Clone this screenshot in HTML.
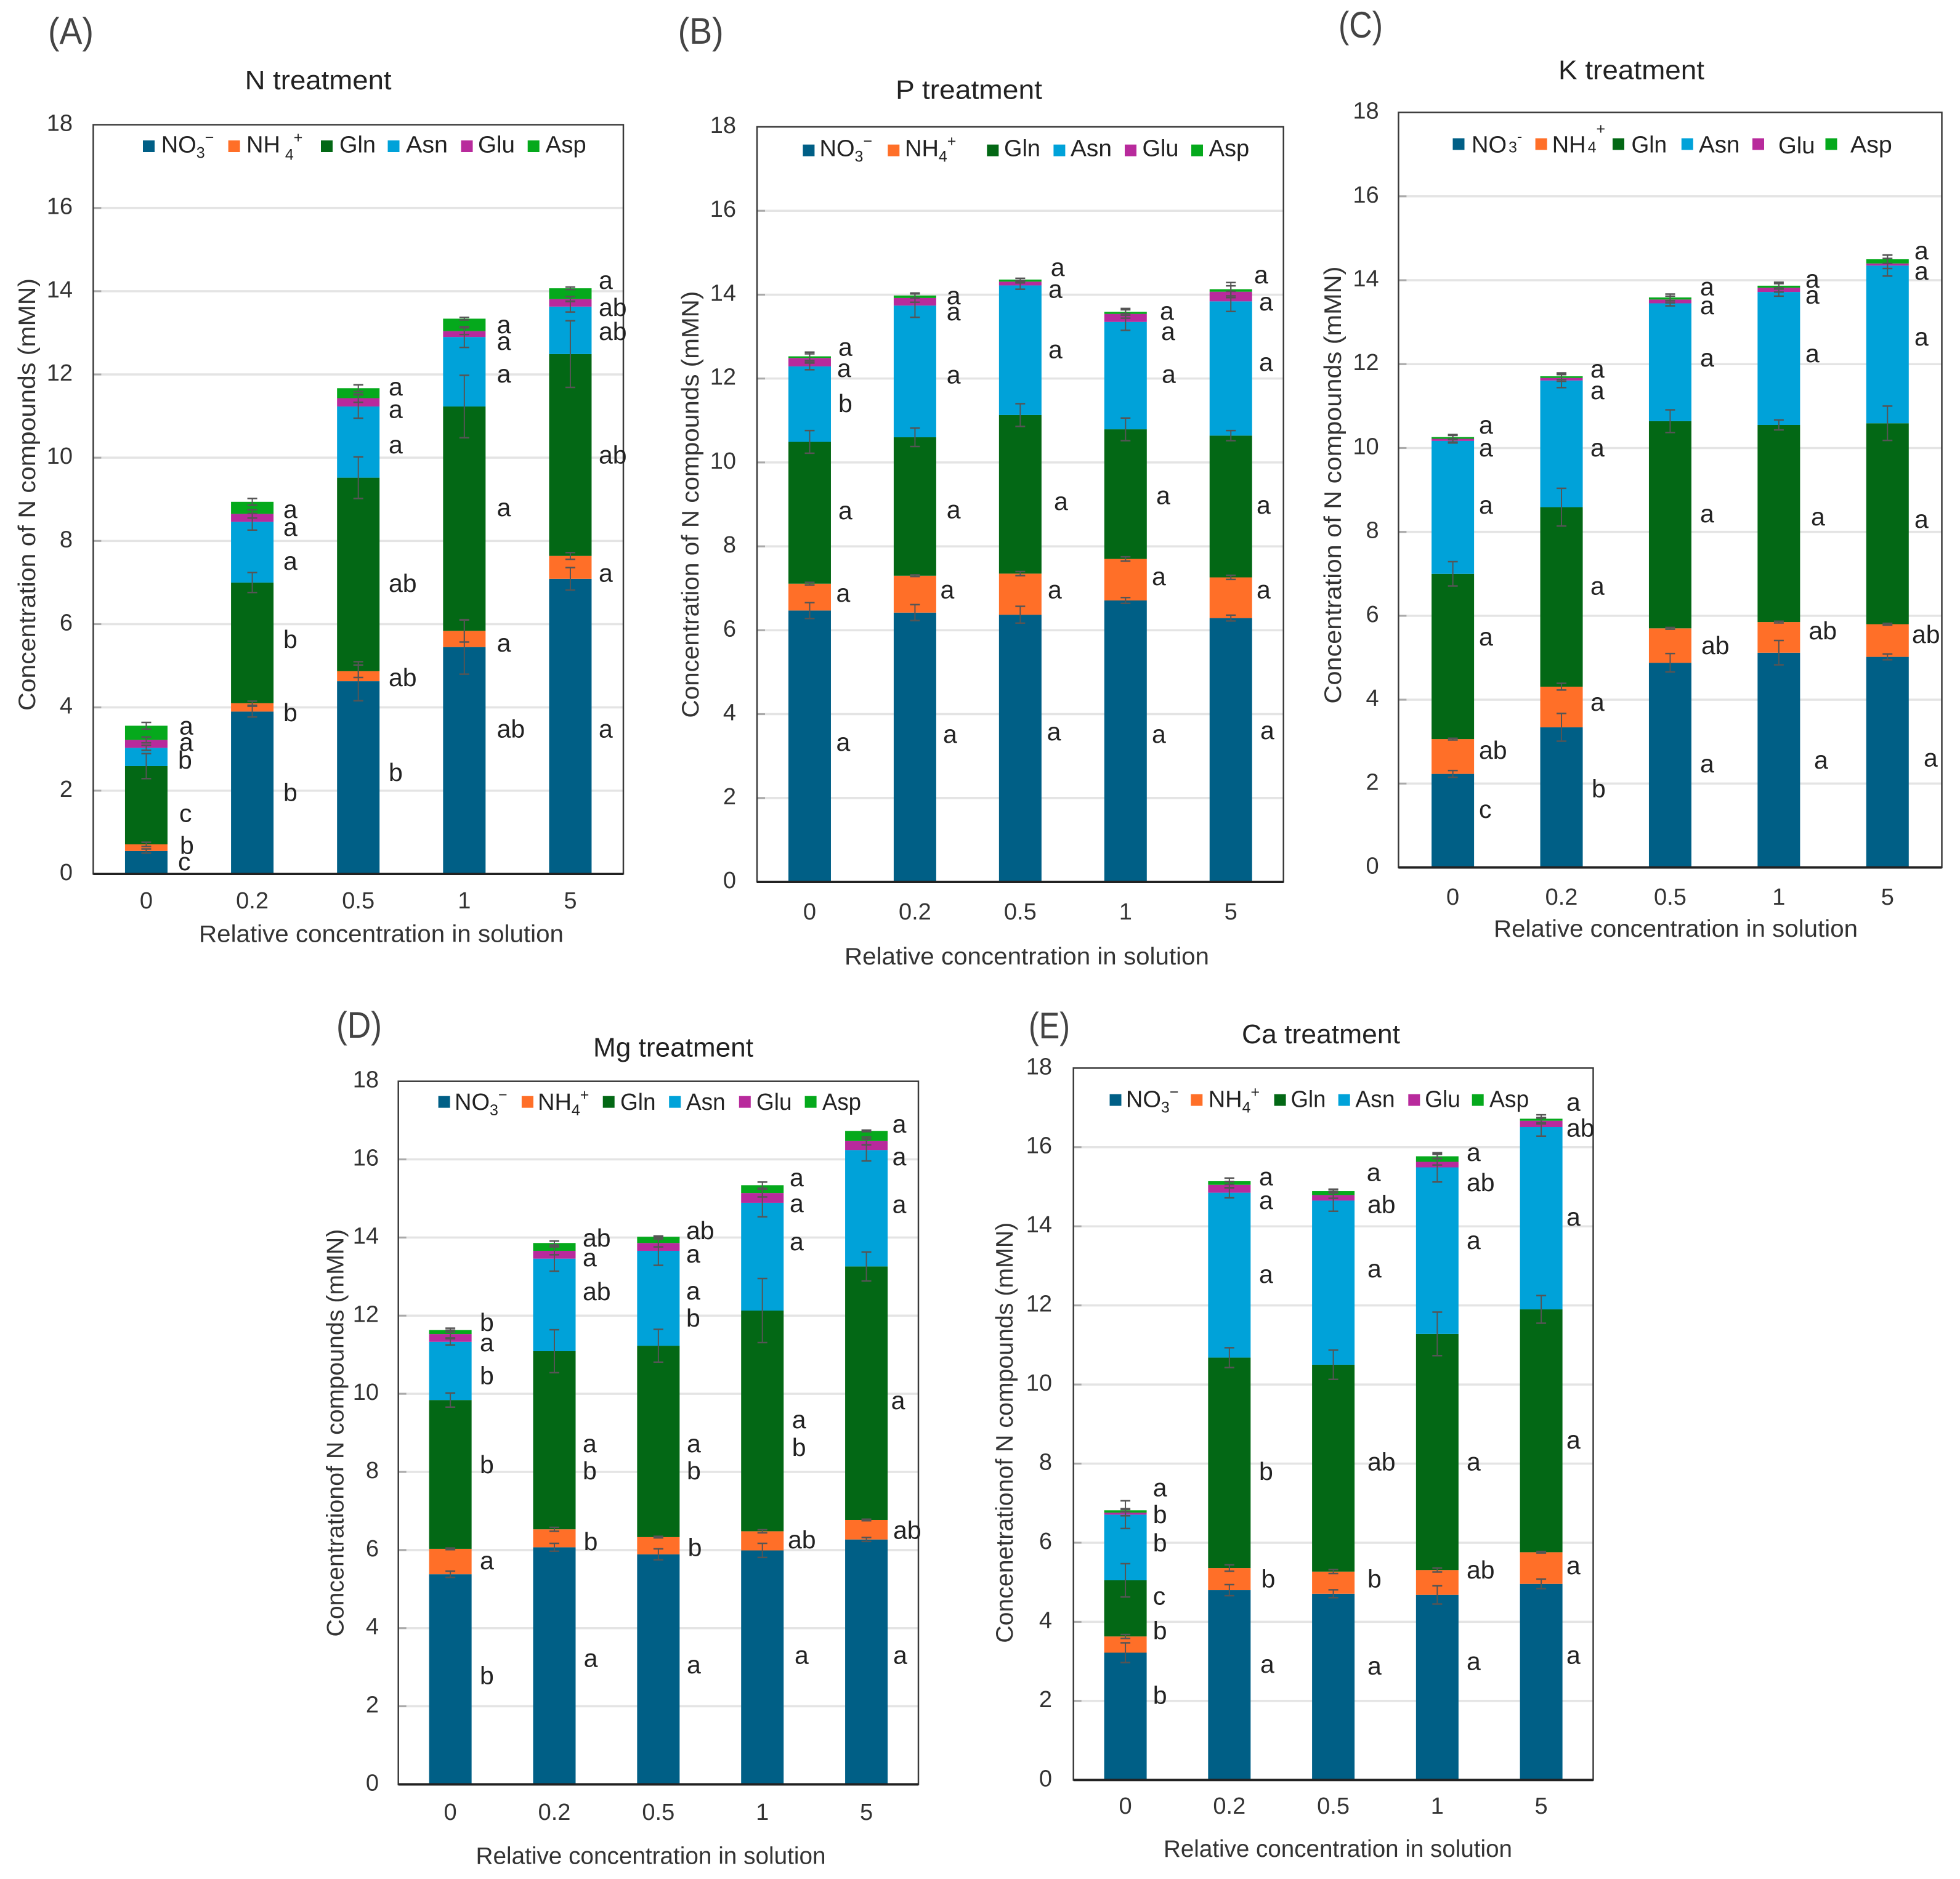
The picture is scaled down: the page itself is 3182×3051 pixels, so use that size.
<!DOCTYPE html>
<html lang="en">
<head>
<meta charset="utf-8">
<title>Concentration of N compounds under N, P, K, Mg and Ca treatments</title>
<style>
html,body{margin:0;padding:0;background:#fff;}
svg{display:block;font-family:"Liberation Sans",sans-serif;fill:#222;}
.title{font-size:44px;}
.plabel{font-size:60px;fill:#444;}
.axt{font-size:39px;fill:#333;}
.leg{font-size:38px;}
.sig{font-size:41px;}
</style>
</head>
<body>
<svg xmlns="http://www.w3.org/2000/svg" width="3182" height="3051" viewBox="0 0 3182 3051">
<rect x="0" y="0" width="3182" height="3051" fill="#fff"/>

<!-- PANEL A -->
<g>
<g id="marks-a"></g>
<text class="plabel" x="78" y="71" textLength="74" lengthAdjust="spacingAndGlyphs">(A)</text>
<text class="title" x="397.6" y="145" textLength="238" lengthAdjust="spacingAndGlyphs">N treatment</text>
<text class="axt" x="57" y="1154" transform="rotate(-90 57 1154)" textLength="702" lengthAdjust="spacingAndGlyphs">Concentration of N compounds (mMN)</text>
<text class="axt" x="323" y="1529.5" textLength="592" lengthAdjust="spacingAndGlyphs">Relative concentration in solution</text>
<g>
<rect x="232" y="228" width="19" height="19" fill="#005f86"/>
<text class="leg" x="261.7" y="247.4">NO<tspan dy="9" font-size="25">3</tspan><tspan dy="-25" font-size="25">−</tspan></text>
<rect x="370.6" y="228" width="19" height="19" fill="#ff6f28"/>
<text class="leg" x="400" y="247.4">NH<tspan dx="8" dy="12" font-size="25">4</tspan><tspan dy="-28" font-size="25">+</tspan></text>
<rect x="521" y="228" width="19" height="19" fill="#036815"/>
<text class="leg" x="551" y="247.4" textLength="59" lengthAdjust="spacingAndGlyphs">Gln</text>
<rect x="629.5" y="228" width="19" height="19" fill="#00a2d9"/>
<text class="leg" x="659" y="247.4" textLength="68" lengthAdjust="spacingAndGlyphs">Asn</text>
<rect x="748.5" y="228" width="19" height="19" fill="#b82a9c"/>
<text class="leg" x="776" y="247.4" textLength="60" lengthAdjust="spacingAndGlyphs">Glu</text>
<rect x="856.7" y="228" width="19" height="19" fill="#05a91c"/>
<text class="leg" x="885.7" y="247.4" textLength="66" lengthAdjust="spacingAndGlyphs">Asp</text>
</g>
<g>
<text class="sig" x="291" y="1192.6">a</text>
<text class="sig" x="291" y="1219">a</text>
<text class="sig" x="289" y="1248">b</text>
<text class="sig" x="291" y="1334.7">c</text>
<text class="sig" x="292" y="1386.5">b</text>
<text class="sig" x="289" y="1413">c</text>
<text class="sig" x="460" y="841">a</text>
<text class="sig" x="460" y="870">a</text>
<text class="sig" x="460" y="925">a</text>
<text class="sig" x="460" y="1052">b</text>
<text class="sig" x="460" y="1171">b</text>
<text class="sig" x="460" y="1300.7">b</text>
<text class="sig" x="631" y="642">a</text>
<text class="sig" x="631" y="678.6">a</text>
<text class="sig" x="631" y="736">a</text>
<text class="sig" x="631" y="961">ab</text>
<text class="sig" x="631" y="1114">ab</text>
<text class="sig" x="631" y="1268">b</text>
<text class="sig" x="806.6" y="541">a</text>
<text class="sig" x="806.6" y="568">a</text>
<text class="sig" x="806.6" y="621">a</text>
<text class="sig" x="806.6" y="838">a</text>
<text class="sig" x="806.6" y="1058">a</text>
<text class="sig" x="806.6" y="1197.5">ab</text>
<text class="sig" x="972" y="469">a</text>
<text class="sig" x="972" y="513">ab</text>
<text class="sig" x="972" y="552">ab</text>
<text class="sig" x="972" y="752.6">ab</text>
<text class="sig" x="972" y="944.5">a</text>
<text class="sig" x="972" y="1197.5">a</text>
</g>
</g>

<!-- PANEL B -->
<g>
<g id="marks-b"></g>
<text class="plabel" x="1100.6" y="71" textLength="74" lengthAdjust="spacingAndGlyphs">(B)</text>
<text class="title" x="1454" y="160.7" textLength="238" lengthAdjust="spacingAndGlyphs">P treatment</text>
<text class="axt" x="1134" y="1165.6" transform="rotate(-90 1134 1165.6)" textLength="693" lengthAdjust="spacingAndGlyphs">Concentration of N compounds (mMN)</text>
<text class="axt" x="1371" y="1566" textLength="592" lengthAdjust="spacingAndGlyphs">Relative concentration in solution</text>
<g>
<rect x="1303.4" y="234.7" width="19" height="19" fill="#005f86"/>
<text class="leg" x="1330.5" y="253.6">NO<tspan dy="9" font-size="25">3</tspan><tspan dy="-25" font-size="25">−</tspan></text>
<rect x="1441.3" y="234.7" width="19" height="19" fill="#ff6f28"/>
<text class="leg" x="1469" y="253.6">NH<tspan dy="9" font-size="25">4</tspan><tspan dy="-25" font-size="25">+</tspan></text>
<rect x="1602.3" y="234.7" width="19" height="19" fill="#036815"/>
<text class="leg" x="1630" y="253.6" textLength="59" lengthAdjust="spacingAndGlyphs">Gln</text>
<rect x="1710.4" y="234.7" width="19" height="19" fill="#00a2d9"/>
<text class="leg" x="1738" y="253.6" textLength="67" lengthAdjust="spacingAndGlyphs">Asn</text>
<rect x="1826" y="234.7" width="19" height="19" fill="#b82a9c"/>
<text class="leg" x="1854.5" y="253.6" textLength="59" lengthAdjust="spacingAndGlyphs">Glu</text>
<rect x="1934" y="234.7" width="19" height="19" fill="#05a91c"/>
<text class="leg" x="1962.6" y="253.6" textLength="65.6" lengthAdjust="spacingAndGlyphs">Asp</text>
</g>
<g>
<text class="sig" x="1361" y="577.6">a</text>
<text class="sig" x="1359" y="612">a</text>
<text class="sig" x="1361" y="669">b</text>
<text class="sig" x="1361" y="843">a</text>
<text class="sig" x="1357.5" y="977">a</text>
<text class="sig" x="1357.5" y="1219">a</text>
<text class="sig" x="1536.7" y="494">a</text>
<text class="sig" x="1536.7" y="520">a</text>
<text class="sig" x="1536.7" y="622.4">a</text>
<text class="sig" x="1536.7" y="841.6">a</text>
<text class="sig" x="1526.5" y="971.7">a</text>
<text class="sig" x="1531" y="1206">a</text>
<text class="sig" x="1705.7" y="448">a</text>
<text class="sig" x="1702" y="483.7">a</text>
<text class="sig" x="1702" y="581.6">a</text>
<text class="sig" x="1711" y="828">a</text>
<text class="sig" x="1701" y="971.7">a</text>
<text class="sig" x="1699.6" y="1202">a</text>
<text class="sig" x="1883" y="519">a</text>
<text class="sig" x="1885" y="552">a</text>
<text class="sig" x="1886" y="621.4">a</text>
<text class="sig" x="1877" y="818.7">a</text>
<text class="sig" x="1870" y="950">a</text>
<text class="sig" x="1870" y="1206">a</text>
<text class="sig" x="2036" y="460">a</text>
<text class="sig" x="2044" y="504">a</text>
<text class="sig" x="2044" y="602">a</text>
<text class="sig" x="2040" y="834">a</text>
<text class="sig" x="2040" y="971.7">a</text>
<text class="sig" x="2046" y="1200">a</text>
</g>
</g>

<!-- PANEL C -->
<g>
<g id="marks-c"></g>
<text class="plabel" x="2173" y="61" textLength="72" lengthAdjust="spacingAndGlyphs">(C)</text>
<text class="title" x="2530" y="128.6" textLength="237" lengthAdjust="spacingAndGlyphs">K treatment</text>
<text class="axt" x="2177" y="1142.6" transform="rotate(-90 2177 1142.6)" textLength="710" lengthAdjust="spacingAndGlyphs">Concentration of N compounds  (mMN)</text>
<text class="axt" x="2425" y="1521" textLength="591" lengthAdjust="spacingAndGlyphs">Relative concentration in solution</text>
<g>
<rect x="2358.5" y="224.5" width="19" height="19" fill="#005f86"/>
<text class="leg" x="2389" y="247.4">NO<tspan dx="3" font-size="25">3</tspan><tspan dy="-18" font-size="25">-</tspan></text>
<rect x="2492.6" y="224.5" width="19" height="19" fill="#ff6f28"/>
<text class="leg" x="2519.7" y="247.4">NH<tspan dx="3" font-size="25">4</tspan><tspan dy="-30" font-size="25">+</tspan></text>
<rect x="2618" y="224.5" width="19" height="19" fill="#036815"/>
<text class="leg" x="2648.5" y="247.4" textLength="57.6" lengthAdjust="spacingAndGlyphs">Gln</text>
<rect x="2729.8" y="224.5" width="19" height="19" fill="#00a2d9"/>
<text class="leg" x="2758" y="247.4" textLength="66.4" lengthAdjust="spacingAndGlyphs">Asn</text>
<rect x="2845" y="224.5" width="19" height="19" fill="#b82a9c"/>
<text class="leg" x="2887" y="249" textLength="59.6" lengthAdjust="spacingAndGlyphs">Glu</text>
<rect x="2963.5" y="224.5" width="19" height="19" fill="#05a91c"/>
<text class="leg" x="3004" y="247.4" textLength="67.8" lengthAdjust="spacingAndGlyphs">Asp</text>
</g>
<g>
<text class="sig" x="2401" y="704">a</text>
<text class="sig" x="2401" y="741">a</text>
<text class="sig" x="2401" y="834">a</text>
<text class="sig" x="2401" y="1048">a</text>
<text class="sig" x="2401" y="1232">ab</text>
<text class="sig" x="2401" y="1328">c</text>
<text class="sig" x="2582" y="613">a</text>
<text class="sig" x="2582" y="648">a</text>
<text class="sig" x="2582" y="741">a</text>
<text class="sig" x="2582" y="965.6">a</text>
<text class="sig" x="2582" y="1154">a</text>
<text class="sig" x="2584" y="1294.7">b</text>
<text class="sig" x="2760" y="479.6">a</text>
<text class="sig" x="2760" y="510">a</text>
<text class="sig" x="2760" y="595">a</text>
<text class="sig" x="2760" y="847.8">a</text>
<text class="sig" x="2762" y="1062">ab</text>
<text class="sig" x="2760" y="1254">a</text>
<text class="sig" x="2931" y="467">a</text>
<text class="sig" x="2931" y="493">a</text>
<text class="sig" x="2931" y="588">a</text>
<text class="sig" x="2940" y="853">a</text>
<text class="sig" x="2936.4" y="1038">ab</text>
<text class="sig" x="2945" y="1248">a</text>
<text class="sig" x="3108" y="421">a</text>
<text class="sig" x="3108" y="454">a</text>
<text class="sig" x="3108" y="561">a</text>
<text class="sig" x="3108" y="857">a</text>
<text class="sig" x="3104" y="1044">ab</text>
<text class="sig" x="3123" y="1244.7">a</text>
</g>
</g>

<!-- PANEL D -->
<g>
<g id="marks-d"></g>
<text class="plabel" x="546" y="1685" textLength="74" lengthAdjust="spacingAndGlyphs">(D)</text>
<text class="title" x="963" y="1715.4" textLength="260" lengthAdjust="spacingAndGlyphs">Mg treatment</text>
<text class="axt" x="557.5" y="2657.6" transform="rotate(-90 557.5 2657.6)" textLength="662" lengthAdjust="spacingAndGlyphs">Concentrationof N compounds (mMN)</text>
<text class="axt" x="772.5" y="3026.5" textLength="568" lengthAdjust="spacingAndGlyphs">Relative concentration in solution</text>
<g>
<rect x="711.6" y="1779.7" width="19" height="19" fill="#005f86"/>
<text class="leg" x="738" y="1802">NO<tspan dy="9" font-size="25">3</tspan><tspan dy="-25" font-size="25">−</tspan></text>
<rect x="846.9" y="1779.7" width="19" height="19" fill="#ff6f28"/>
<text class="leg" x="873" y="1802">NH<tspan dy="9" font-size="25">4</tspan><tspan dy="-25" font-size="25">+</tspan></text>
<rect x="978.7" y="1779.7" width="19" height="19" fill="#036815"/>
<text class="leg" x="1007" y="1802" textLength="57.5" lengthAdjust="spacingAndGlyphs">Gln</text>
<rect x="1086.2" y="1779.7" width="19" height="19" fill="#00a2d9"/>
<text class="leg" x="1114" y="1802" textLength="63.6" lengthAdjust="spacingAndGlyphs">Asn</text>
<rect x="1199.8" y="1779.7" width="19" height="19" fill="#b82a9c"/>
<text class="leg" x="1228" y="1802" textLength="57.5" lengthAdjust="spacingAndGlyphs">Glu</text>
<rect x="1306.6" y="1779.7" width="19" height="19" fill="#05a91c"/>
<text class="leg" x="1335" y="1802" textLength="63" lengthAdjust="spacingAndGlyphs">Asp</text>
</g>
<g>
<text class="sig" x="779" y="2161">b</text>
<text class="sig" x="779" y="2194">a</text>
<text class="sig" x="779" y="2247.5">b</text>
<text class="sig" x="779" y="2392">b</text>
<text class="sig" x="779" y="2548">a</text>
<text class="sig" x="779" y="2734.7">b</text>
<text class="sig" x="946" y="2024">ab</text>
<text class="sig" x="946" y="2056">a</text>
<text class="sig" x="946" y="2111">ab</text>
<text class="sig" x="946" y="2358">a</text>
<text class="sig" x="946" y="2402">b</text>
<text class="sig" x="947.6" y="2517">b</text>
<text class="sig" x="947.6" y="2706.6">a</text>
<text class="sig" x="1114" y="2012">ab</text>
<text class="sig" x="1114" y="2050">a</text>
<text class="sig" x="1114" y="2110">a</text>
<text class="sig" x="1114" y="2154">b</text>
<text class="sig" x="1115" y="2358">a</text>
<text class="sig" x="1115" y="2402">b</text>
<text class="sig" x="1116.6" y="2526.5">b</text>
<text class="sig" x="1115" y="2717">a</text>
<text class="sig" x="1282" y="1926">a</text>
<text class="sig" x="1282" y="1968">a</text>
<text class="sig" x="1282" y="2030">a</text>
<text class="sig" x="1285.7" y="2319">a</text>
<text class="sig" x="1285.7" y="2364">b</text>
<text class="sig" x="1279" y="2513.8">ab</text>
<text class="sig" x="1290" y="2701.5">a</text>
<text class="sig" x="1448.6" y="1839">a</text>
<text class="sig" x="1448.6" y="1892">a</text>
<text class="sig" x="1448.6" y="1969.5">a</text>
<text class="sig" x="1446.6" y="2288">a</text>
<text class="sig" x="1450" y="2498.4">ab</text>
<text class="sig" x="1450" y="2701.5">a</text>
</g>
</g>

<!-- PANEL E -->
<g>
<g id="marks-e"></g>
<text class="plabel" x="1670" y="1686" textLength="67" lengthAdjust="spacingAndGlyphs">(E)</text>
<text class="title" x="2016" y="1694" textLength="257" lengthAdjust="spacingAndGlyphs">Ca treatment</text>
<text class="axt" x="1644" y="2667.8" transform="rotate(-90 1644 2667.8)" textLength="683" lengthAdjust="spacingAndGlyphs">Concenetrationof N compounds (mMN)</text>
<text class="axt" x="1889" y="3015" textLength="566" lengthAdjust="spacingAndGlyphs">Relative concentration in solution</text>
<g>
<rect x="1801.5" y="1776.6" width="19" height="19" fill="#005f86"/>
<text class="leg" x="1827.9" y="1797.5">NO<tspan dy="9" font-size="25">3</tspan><tspan dy="-25" font-size="25">−</tspan></text>
<rect x="1933.3" y="1776.6" width="19" height="19" fill="#ff6f28"/>
<text class="leg" x="1961.7" y="1797.5">NH<tspan dy="9" font-size="25">4</tspan><tspan dy="-25" font-size="25">+</tspan></text>
<rect x="2068.6" y="1776.6" width="19" height="19" fill="#036815"/>
<text class="leg" x="2095.6" y="1797.5" textLength="56.8" lengthAdjust="spacingAndGlyphs">Gln</text>
<rect x="2172.7" y="1776.6" width="19" height="19" fill="#00a2d9"/>
<text class="leg" x="2200.4" y="1797.5" textLength="64.2" lengthAdjust="spacingAndGlyphs">Asn</text>
<rect x="2286.3" y="1776.6" width="19" height="19" fill="#b82a9c"/>
<text class="leg" x="2313.3" y="1797.5" textLength="57.5" lengthAdjust="spacingAndGlyphs">Glu</text>
<rect x="2389.7" y="1776.6" width="19" height="19" fill="#05a91c"/>
<text class="leg" x="2418" y="1797.5" textLength="64.2" lengthAdjust="spacingAndGlyphs">Asp</text>
</g>
<g>
<text class="sig" x="1871.8" y="2429.6">a</text>
<text class="sig" x="1871.8" y="2473">b</text>
<text class="sig" x="1871.8" y="2519">b</text>
<text class="sig" x="1871.8" y="2605.6">c</text>
<text class="sig" x="1871.8" y="2661.7">b</text>
<text class="sig" x="1871.8" y="2766.3">b</text>
<text class="sig" x="2044" y="1924.6">a</text>
<text class="sig" x="2044" y="1963">a</text>
<text class="sig" x="2044" y="2083">a</text>
<text class="sig" x="2044" y="2403">b</text>
<text class="sig" x="2047.6" y="2577.5">b</text>
<text class="sig" x="2046" y="2716">a</text>
<text class="sig" x="2218.7" y="1917.4">a</text>
<text class="sig" x="2220" y="1969.5">ab</text>
<text class="sig" x="2220" y="2074">a</text>
<text class="sig" x="2220" y="2387.7">ab</text>
<text class="sig" x="2220" y="2577.5">b</text>
<text class="sig" x="2220" y="2719">a</text>
<text class="sig" x="2381" y="1885">a</text>
<text class="sig" x="2381" y="1934">ab</text>
<text class="sig" x="2381" y="2028">a</text>
<text class="sig" x="2381" y="2387.7">a</text>
<text class="sig" x="2381" y="2563">ab</text>
<text class="sig" x="2381" y="2711.7">a</text>
<text class="sig" x="2543" y="1803.7">a</text>
<text class="sig" x="2543" y="1845.5">ab</text>
<text class="sig" x="2543" y="1990">a</text>
<text class="sig" x="2543" y="2352">a</text>
<text class="sig" x="2543" y="2556">a</text>
<text class="sig" x="2543" y="2701.5">a</text>
</g>
</g>
</svg>

<script>
// ---- shared chart data ----
const categories = ['0', '0.2', '0.5', '1', '5'];
const yTickValues = [0, 2, 4, 6, 8, 10, 12, 14, 16, 18];
const seriesKeys = ['no3', 'nh4', 'gln', 'asn', 'glu', 'asp'];

// ---- N treatment ----
const no3A = [0.55, 3.90, 4.63, 5.45, 7.09];
const nh4A = [0.16, 0.20, 0.24, 0.39, 0.55];
const glnA = [1.88, 2.90, 4.65, 5.39, 4.85];
const asnA = [0.44, 1.46, 1.71, 1.67, 1.14];
const gluA = [0.19, 0.19, 0.20, 0.14, 0.18];
const aspA = [0.34, 0.29, 0.24, 0.30, 0.26];
const errNo3A = [0.05, 0.13, 0.47, 0.65, 0.27];
const errNh4A = [0.05, 0.05, 0.15, 0.27, 0.08];
const errGlnA = [0.30, 0.24, 0.50, 0.75, 0.80];
const errAsnA = [0.06, 0.20, 0.28, 0.25, 0.13];
const errGluA = [0.07, 0.10, 0.10, 0.08, 0.06];
const errAspA = [0.08, 0.08, 0.08, 0.03, 0.03];

// ---- P treatment ----
const no3B = [6.47, 6.42, 6.37, 6.71, 6.29];
const nh4B = [0.64, 0.88, 0.98, 0.99, 0.97];
const glnB = [3.38, 3.30, 3.78, 3.09, 3.38];
const asnB = [1.80, 3.14, 3.09, 2.56, 3.20];
const gluB = [0.20, 0.18, 0.09, 0.19, 0.23];
const aspB = [0.04, 0.06, 0.05, 0.05, 0.06];
const errNo3B = [0.19, 0.19, 0.20, 0.07, 0.07];
const errNh4B = [0.03, 0.02, 0.05, 0.05, 0.05];
const errGlnB = [0.27, 0.22, 0.27, 0.27, 0.12];
const errAsnB = [0.08, 0.28, 0.09, 0.20, 0.24];
const errGluB = [0.10, 0.10, 0.03, 0.10, 0.14];
const errAspB = [0.10, 0.06, 0.03, 0.08, 0.16];

// ---- K treatment ----
const no3C = [2.23, 3.34, 4.88, 5.12, 5.02];
const nh4C = [0.83, 0.97, 0.82, 0.73, 0.78];
const glnC = [3.94, 4.28, 4.94, 4.70, 4.79];
const asnC = [3.17, 3.02, 2.81, 3.17, 3.76];
const gluC = [0.05, 0.06, 0.09, 0.10, 0.05];
const aspC = [0.04, 0.04, 0.05, 0.05, 0.10];
const errNo3C = [0.08, 0.33, 0.22, 0.29, 0.07];
const errNh4C = [0.02, 0.08, 0.02, 0.02, 0.02];
const errGlnC = [0.29, 0.45, 0.27, 0.12, 0.41];
const errAsnC = [0.05, 0.17, 0.06, 0.10, 0.25];
const errGluC = [0.08, 0.08, 0.08, 0.10, 0.12];
const errAspC = [0.06, 0.08, 0.08, 0.08, 0.10];

// ---- Mg treatment ----
const no3D = [5.38, 6.07, 5.89, 5.99, 6.27];
const nh4D = [0.65, 0.46, 0.44, 0.49, 0.50];
const glnD = [3.81, 4.56, 4.90, 5.65, 6.49];
const asnD = [1.49, 2.37, 2.43, 2.76, 2.98];
const gluD = [0.20, 0.20, 0.20, 0.25, 0.23];
const aspD = [0.10, 0.20, 0.16, 0.20, 0.26];
const errNo3D = [0.08, 0.10, 0.14, 0.18, 0.05];
const errNh4D = [0.02, 0.05, 0.02, 0.04, 0.02];
const errGlnD = [0.18, 0.55, 0.42, 0.82, 0.37];
const errAsnD = [0.08, 0.32, 0.37, 0.36, 0.28];
const errGluD = [0.10, 0.10, 0.10, 0.10, 0.10];
const errAspD = [0.05, 0.05, 0.02, 0.08, 0.02];

// ---- Ca treatment ----
const no3E = [3.22, 4.80, 4.71, 4.68, 4.96];
const nh4E = [0.41, 0.56, 0.56, 0.63, 0.80];
const glnE = [1.42, 5.32, 5.23, 5.97, 6.14];
const asnE = [1.66, 4.17, 4.15, 4.21, 4.61];
const gluE = [0.05, 0.20, 0.14, 0.14, 0.16];
const aspE = [0.06, 0.09, 0.10, 0.14, 0.05];
const errNo3E = [0.25, 0.14, 0.10, 0.23, 0.12];
const errNh4E = [0.05, 0.08, 0.05, 0.05, 0.02];
const errGlnE = [0.42, 0.25, 0.37, 0.55, 0.35];
const errAsnE = [0.35, 0.13, 0.27, 0.37, 0.23];
const errGluE = [0.08, 0.08, 0.08, 0.08, 0.08];
const errAspE = [0.04, 0.08, 0.05, 0.05, 0.10];

const seriesColors = { no3: '#005f86', nh4: '#ff6f28', gln: '#036815', asn: '#00a2d9', glu: '#b82a9c', asp: '#05a91c' };

// Panel frames and label anchors (page layout, not data)
const panels = [
  { id: 'a', frame: { left: 151.4, right: 1012, top: 202.5, bottom: 1419 }, yLabelRight: 118, xLabelBase: 1475,
    values: [no3A, nh4A, glnA, asnA, gluA, aspA], errors: [errNo3A, errNh4A, errGlnA, errAsnA, errGluA, errAspA] },
  { id: 'b', frame: { left: 1229, right: 2083.7, top: 206, bottom: 1432 }, yLabelRight: 1195, xLabelBase: 1493,
    values: [no3B, nh4B, glnB, asnB, gluB, aspB], errors: [errNo3B, errNh4B, errGlnB, errAsnB, errGluB, errAspB] },
  { id: 'c', frame: { left: 2270.4, right: 3152.5, top: 182.6, bottom: 1408.5 }, yLabelRight: 2238.6, xLabelBase: 1469,
    values: [no3C, nh4C, glnC, asnC, gluC, aspC], errors: [errNo3C, errNh4C, errGlnC, errAsnC, errGluC, errAspC] },
  { id: 'd', frame: { left: 646.7, right: 1491, top: 1755.7, bottom: 2897.4 }, yLabelRight: 615, xLabelBase: 2955,
    values: [no3D, nh4D, glnD, asnD, gluD, aspD], errors: [errNo3D, errNh4D, errGlnD, errAsnD, errGluD, errAspD] },
  { id: 'e', frame: { left: 1742.7, right: 2586.5, top: 1734.3, bottom: 2890.3 }, yLabelRight: 1708, xLabelBase: 2945,
    values: [no3E, nh4E, glnE, asnE, gluE, aspE], errors: [errNo3E, errNh4E, errGlnE, errAsnE, errGluE, errAspE] }
];

const SVG_NS = 'http://www.w3.org/2000/svg';
const Y_MAX = 18;
const BAR_WIDTH = 69;
const CAP_HALF = 8;

function shape(parent, tag, attrs) {
  const el = document.createElementNS(SVG_NS, tag);
  for (const key in attrs) {
    el.setAttribute(key, attrs[key]);
  }
  parent.appendChild(el);
  return el;
}

function drawPanel(panel) {
  const root = document.getElementById('marks-' + panel.id);
  const f = panel.frame;
  const yScale = function (v) { return f.bottom - (v / Y_MAX) * (f.bottom - f.top); };
  const band = (f.right - f.left) / categories.length;
  const xScale = function (i) { return f.left + (i + 0.5) * band; };

  yTickValues.forEach(function (tick) {
    const y = yScale(tick);
    if (tick > 0 && tick < Y_MAX) {
      const grid = shape(root, 'line', { x1: f.left, x2: f.right, y1: y, y2: y, stroke: '#e4e4e4', 'stroke-width': 3.5 });
      
      
      const tickMark = shape(root, 'line', { x1: f.left, x2: f.left + 13, y1: y, y2: y, stroke: '#aaa', 'stroke-width': 3 });
      
      
    }
    const label = shape(root, 'text', { x: panel.yLabelRight, y: y + 10, 'text-anchor': 'end', 'font-size': 38, fill: '#333' });
    label.textContent = String(tick);
    
    
  });

  categories.forEach(function (cat, i) {
    const cx = xScale(i);
    let cumulative = 0;
    const tops = [];
    seriesKeys.forEach(function (key, s) {
      const v = panel.values[s][i];
      const y0 = yScale(cumulative);
      cumulative += v;
      const y1 = yScale(cumulative);
      tops.push(cumulative);
      const bar = shape(root, 'rect', { x: cx - BAR_WIDTH / 2, y: y1, width: BAR_WIDTH, height: y0 - y1, fill: seriesColors[key] });
      
      
    });
    seriesKeys.forEach(function (key, s) {
      const e = panel.errors[s][i];
      const yHi = yScale(tops[s] + e);
      const yLo = yScale(tops[s] - e);
      const stem = shape(root, 'line', { x1: cx, x2: cx, y1: yHi, y2: yLo, stroke: '#555', 'stroke-width': 2 });
      
      
      const capTop = shape(root, 'line', { x1: cx - CAP_HALF, x2: cx + CAP_HALF, y1: yHi, y2: yHi, stroke: '#555', 'stroke-width': 2.5 });
      
      
      const capBot = shape(root, 'line', { x1: cx - CAP_HALF, x2: cx + CAP_HALF, y1: yLo, y2: yLo, stroke: '#555', 'stroke-width': 2.5 });
      
      
    });
    const label = shape(root, 'text', { x: cx, y: panel.xLabelBase, 'text-anchor': 'middle', 'font-size': 38, fill: '#333' });
    label.textContent = cat;
    
    
  });

  const frame = shape(root, 'rect', { x: f.left, y: f.top, width: f.right - f.left, height: f.bottom - f.top, fill: 'none', stroke: '#3a3a3a', 'stroke-width': 2.5 });
  
  
  const baseline = shape(root, 'line', { x1: f.left, x2: f.right, y1: f.bottom, y2: f.bottom, stroke: '#222', 'stroke-width': 4 });
  
  
}

panels.forEach(drawPanel);
</script>
</body>
</html>
